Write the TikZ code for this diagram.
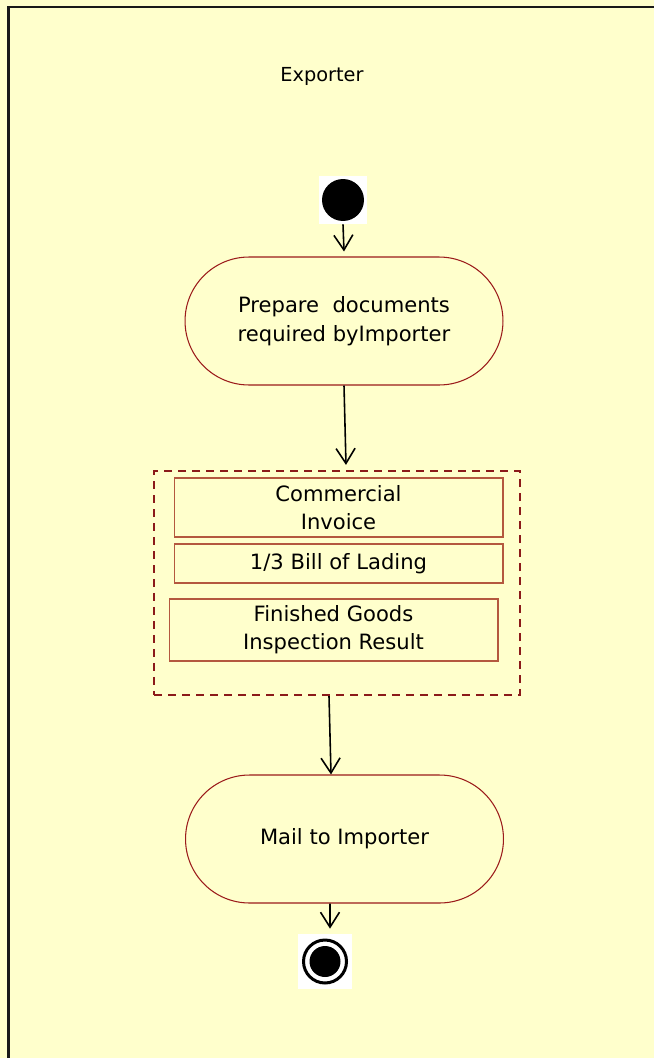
\documentclass[tikz,border=0pt]{standalone}
\usepackage{fontspec}
\setmainfont{DejaVu Sans}
\usepackage{tikz}
\usetikzlibrary{positioning, arrows.meta}

\definecolor{lane}{HTML}{FFFFCC}
\definecolor{actred}{HTML}{9B1B1B}
\definecolor{docred}{HTML}{B4583F}
\definecolor{grpred}{HTML}{8B1A1A}

\begin{document}
\begin{tikzpicture}[x=0.02cm, y=-0.02cm,
          act/.style={draw=actred, line width=0.6pt, rounded corners=1.28cm,
            minimum width=6.36cm, minimum height=2.56cm, inner sep=0pt, align=center,
            font=\fontsize{12}{16.5}\selectfont},
          doc/.style={draw=docred, line width=0.6pt, minimum width=6.58cm, inner sep=0pt,
            align=center, font=\fontsize{12}{16}\selectfont},
          grp/.style={draw=grpred, line width=1.3pt, dash pattern=on 0.16cm off 0.12cm,
            minimum width=7.32cm, minimum height=4.48cm, inner sep=0pt},
          whitebox/.style={fill=white, minimum width=#1, minimum height=#1, inner sep=0pt},
          flow/.style={-{Straight Barb[length=0.3cm, width=0.38cm]}, line width=0.9pt}
        ]
        \useasboundingbox (0,0) rectangle (654,1058);
        \fill[lane] (0,0) rectangle (654,1058);
        \draw[line width=1.4pt, black!90] (8.5,1058) -- (8.5,7) -- (654,7);
        \node[font=\fontsize{11}{13}\selectfont] (lanetitle) at (322,76) {Exporter};

        % start
        \node[whitebox=0.96cm] (startbox) at (343,200) {};
        \node[circle, fill=black, minimum size=0.84cm, inner sep=0pt] (start) at (343,200) {};
        \node[act] (prep) at (344,321) {Prepare\ \ documents\\required byImporter};

        % documents
        \node[grp] (docs) at (337,583) {};
        \node[doc, minimum height=1.18cm] (inv) at (338.5,507.5) {Commercial\\Invoice};
        \node[doc, minimum height=0.78cm] (bol) at (338.5,563.5) {1/3 Bill of Lading};
        \node[doc, minimum height=1.24cm] (insp) at (333.5,630) {Finished Goods\\Inspection Result};

        \node[act] (mail) at (344.5,839) {Mail to Importer};

        % end
        \node[whitebox=1.1cm] (endbox) at (325,961.5) {};
        \node[circle, draw=black, line width=0.06cm, minimum size=0.86cm, inner sep=0pt] (endc) at (325,961.5) {};
        \node[circle, fill=black, minimum size=0.62cm, inner sep=0pt] (enddot) at (endc) {};

        \draw[flow] (startbox.south) -- ([yshift=0.1cm]prep.north);
        \draw[flow] (prep.south) -- ([xshift=0.18cm, yshift=0.1cm]docs.north);
        \draw[flow] ([xshift=-0.16cm]docs.south) -- ([xshift=-0.27cm]mail.north);
        \draw[flow] ([xshift=-0.29cm]mail.south) -- ([xshift=0.1cm, yshift=0.1cm]endbox.north);
      \end{tikzpicture}
\end{document}
